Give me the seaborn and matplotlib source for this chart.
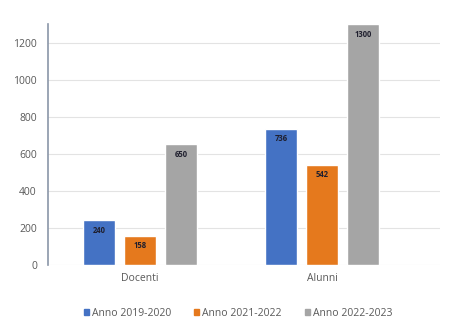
import matplotlib
matplotlib.use("Agg")
import matplotlib.pyplot as plt
import seaborn as sns
import pandas as pd

categories = ["Docenti", "Alunni"]
series = ["Anno 2019-2020", "Anno 2021-2022", "Anno 2022-2023"]
values_2019 = [240, 736]
values_2021 = [158, 542]
values_2022 = [650, 1300]
colors = ["#4472C4", "#E5791D", "#A5A5A5"]

rows = []
for s, vals in zip(series, [values_2019, values_2021, values_2022]):
    for c, v in zip(categories, vals):
        rows.append({"cat": c, "serie": s, "val": v})
df = pd.DataFrame(rows)

sns.set_theme(style="white")
plt.rcParams["font.family"] = ["Open Sans", "DejaVu Sans"]

fig = plt.figure(figsize=(4.67, 3.23), dpi=100)
ax = fig.add_axes([0.1028, 0.1796, 0.8392, 0.7461])
sns.barplot(data=df, x="cat", y="val", hue="serie", palette=colors,
            width=0.676, gap=0.22, ax=ax, legend=False, saturation=1)

ax.set_xlim(-0.505, 1.648)
ax.set_ylim(0, 1300)
ax.set_yticks([0, 200, 400, 600, 800, 1000, 1200])
ax.yaxis.grid(True, color="#E3E3E3", linewidth=0.8)
ax.set_axisbelow(True)
for side in ["top", "right", "bottom"]:
    ax.spines[side].set_visible(False)
ax.spines["left"].set_color("#8A96A8")
ax.spines["left"].set_linewidth(1.2)
ax.tick_params(axis="both", length=0, labelsize=7.5, colors="#595959")
ax.tick_params(axis="x", pad=6)
ax.tick_params(axis="y", pad=8)
ax.set_xlabel("")
ax.set_ylabel("")

for cont in ax.containers:
    for bar in cont:
        h = bar.get_height()
        ax.text(bar.get_x() + bar.get_width() / 2, h - 30, f"{int(h)}",
                ha="center", va="top", fontsize=5.5, fontweight="bold",
                color="#1F1F2E")

handles = [plt.Rectangle((0, 0), 1, 1, color=c) for c in colors]
fig.legend(handles, series, loc="center", bbox_to_anchor=(0.51, 0.03),
           ncol=3, frameon=False, fontsize=7.5, handlelength=0.5,
           handleheight=0.5, handletextpad=0.3, columnspacing=2.2,
           labelcolor="#595959")

fig.savefig("out.png", dpi=100)
